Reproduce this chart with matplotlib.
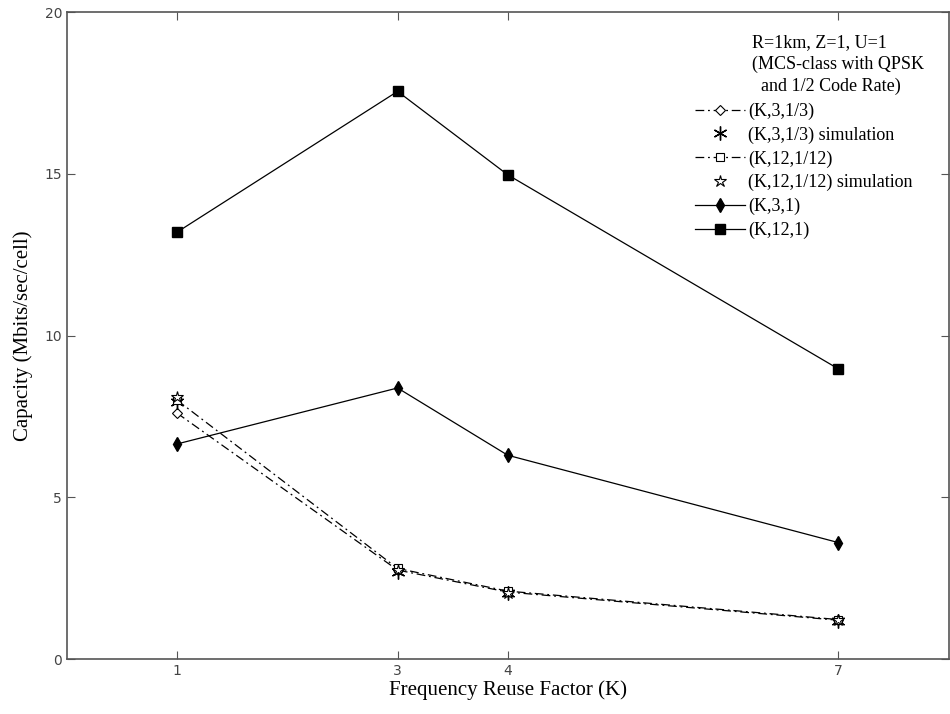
import matplotlib.pyplot as plt

# frequency reuse factor
K = [1, 3, 4, 7]

# capacity values (Mbits/sec/cell)
cap_3_third = [7.6, 2.75, 2.07, 1.2]
cap_3_third_sim = [7.95, 2.7, 2.05, 1.18]
cap_12_twelfth = [8.0, 2.8, 2.1, 1.22]
cap_12_twelfth_sim = [8.1, 2.75, 2.05, 1.2]
cap_3_1 = [6.65, 8.38, 6.3, 3.6]
cap_12_1 = [13.2, 17.55, 14.97, 8.97]

labels = ["(K,3,1/3)", "(K,3,1/3) simulation", "(K,12,1/12)",
          "(K,12,1/12) simulation", "(K,3,1)", "(K,12,1)"]
header = "R=1km, Z=1, U=1\n(MCS-class with QPSK\n  and 1/2 Code Rate)"

serif = "Liberation Serif"
dashdot = (0, (7, 3, 1.5, 3))

fig = plt.figure(figsize=(9.5, 7.14), dpi=100)
ax = fig.add_axes([0.0705, 0.077, 0.928, 0.906])

ax.plot(K, cap_3_third, color="black", lw=0.9, linestyle=dashdot,
        marker="D", markersize=5, markerfacecolor="white", markeredgewidth=0.8,
        label=labels[0])
ax.plot(K, cap_3_third_sim, color="black", linestyle="none",
        marker=(6, 2, 0), markersize=10, markeredgewidth=1.0, label=labels[1])
ax.plot(K, cap_12_twelfth, color="black", lw=0.9, linestyle=dashdot,
        marker="s", markersize=6, markerfacecolor="white", markeredgewidth=0.8,
        label=labels[2])
ax.plot(K, cap_12_twelfth_sim, color="black", linestyle="none",
        marker="*", markersize=9, markerfacecolor="white", markeredgewidth=0.8,
        label=labels[3])
ax.plot(K, cap_3_1, color="black", lw=0.9, marker="d", markersize=7,
        label=labels[4])
ax.plot(K, cap_12_1, color="black", lw=0.9, marker="s", markersize=7,
        label=labels[5])

ax.set_xlim(0, 8)
ax.set_ylim(0, 20)
ax.set_xticks(K)
ax.set_yticks([0, 5, 10, 15, 20])

for sp in ax.spines.values():
    sp.set_color("#555555")
    sp.set_linewidth(1.2)
ax.tick_params(direction="in", top=True, right=True, length=6, width=0.8,
               color="#555555", labelsize=10, labelcolor="#444444")

ax.set_xlabel("Frequency Reuse Factor (K)", family=serif, fontsize=15, labelpad=2)
ax.set_ylabel("Capacity (Mbits/sec/cell)", family=serif, fontsize=15, labelpad=8)

# header above the legend entries
ax.text(0.7775, 0.966, header, transform=ax.transAxes, family=serif,
        fontsize=13, ha="left", va="top", multialignment="left",
        linespacing=1.36)

ax.legend(loc="upper left", bbox_to_anchor=(0.712, 0.86), frameon=False,
          prop={"family": serif, "size": 13},
          handlelength=2.8, handletextpad=0.15, labelspacing=0.36,
          borderaxespad=0.0, borderpad=0.0)

fig.savefig("out.png", dpi=100)
